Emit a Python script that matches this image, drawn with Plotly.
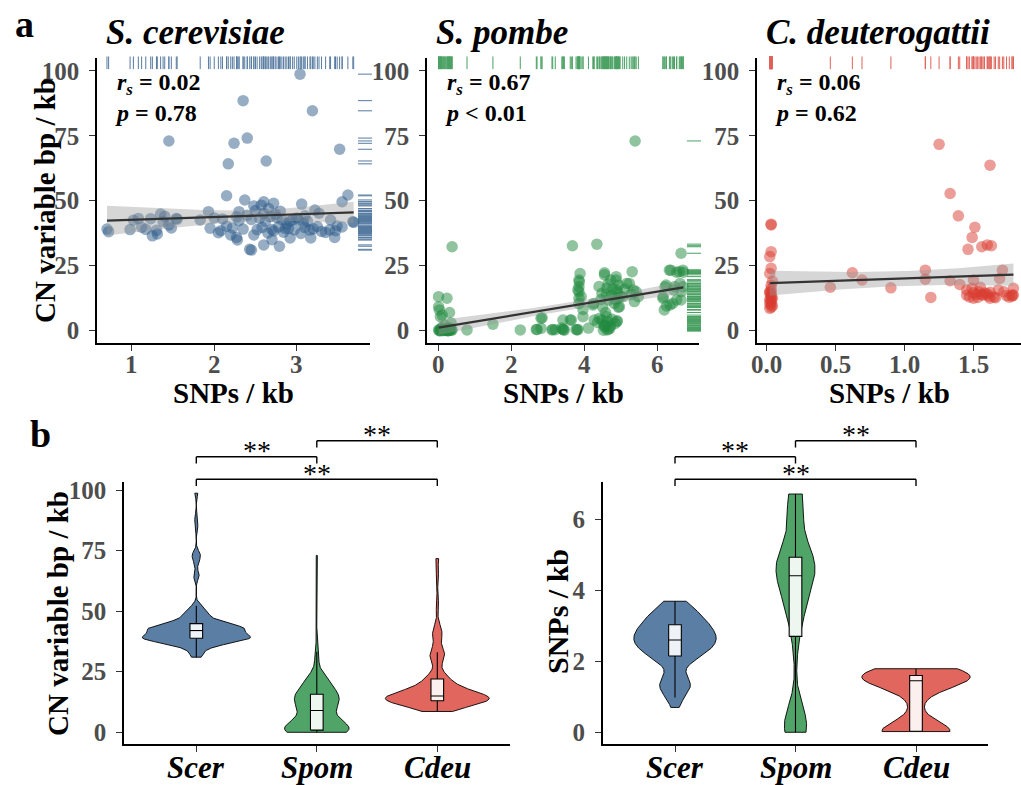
import numpy as np
import plotly.graph_objects as go

W, H = 1021, 785
FONT = "Liberation Serif"

# ---------------- data ----------------
species = ["Scer", "Spom", "Cdeu"]
species_titles = ["S. cerevisiae", "S. pombe", "C. deuterogattii"]
species_colors = ["#2D5B8A", "#1F8A3E", "#D93B2F"]
rs_values = ["0.02", "0.67", "0.06"]
p_values = ["= 0.78", "&lt; 0.01", "= 0.62"]

scer_snp = [0.70, 0.72, 0.98, 1.02, 1.08, 1.12, 1.17, 1.23, 1.31, 1.35, 1.38, 1.45, 1.45, 1.54, 1.55,
            1.30, 1.40, 1.25, 1.48, 1.83, 1.93, 1.95, 2.00, 2.05, 2.08, 2.10, 2.15, 2.17, 2.15,
            2.20, 2.22, 2.24, 2.27, 2.27, 2.28, 2.30, 2.30, 2.35, 2.35, 2.37, 2.40, 2.40, 2.43, 2.45,
            2.45, 2.48, 2.48, 2.50, 2.52, 2.55, 2.57, 2.58, 2.60, 2.60, 2.60, 2.62, 2.63, 2.65, 2.66,
            2.68, 2.70, 2.70, 2.72, 2.72, 2.74, 2.76, 2.78, 2.79, 2.80, 2.82, 2.84, 2.86, 2.88, 2.90,
            2.92, 2.92, 2.95, 2.97,
            3.00, 3.02, 3.04, 3.05, 3.06, 3.08, 3.10, 3.10, 3.13, 3.16, 3.17, 3.19, 3.20, 3.22, 3.25,
            3.27, 3.30, 3.35, 3.40, 3.41, 3.46, 3.47, 3.49, 3.52, 3.55, 3.55, 3.62, 3.68, 3.69]
scer_cn = [39.1, 38.1, 38.9, 42.5, 43.2, 39.8, 39.0, 43.1, 37.2, 44.9, 42.0, 73.0, 40.7, 43.2, 42.9,
           38.6, 44.0, 36.5, 39.5, 42.6, 45.8, 39.4, 43.4, 37.7, 38.5, 43.0, 51.9, 64.2, 40.2,
           36.8, 39.5, 72.1, 35.9, 43.8, 34.9, 45.8, 42.3, 88.5, 39.1, 50.3, 74.1, 44.4, 31.3, 31.0,
           42.8, 36.8, 48.0, 46.2, 38.9, 43.3, 48.3, 39.7, 49.6, 33.0, 45.1, 42.0, 65.3, 37.6, 47.0,
           43.9, 38.95, 35.0, 49.0, 38.4, 44.8, 43.5, 39.9, 32.5, 46.0, 42.7, 37.9, 39.3, 41.2, 39.3,
           35.7, 42.2, 42.6, 38.8,
           43.4, 42.7, 98.7, 37.4, 48.7, 41.4, 39.6, 44.2, 42.1, 38.7, 35.7, 84.6, 39.2, 46.4, 40.1,
           45.2, 38.2, 37.8, 38.8, 42.6, 35.9, 38.5, 40.3, 69.8, 39.9, 49.6, 52.2, 41.9, 41.7]

spom_snp = [0.00, 0.00, 0.23, 0.32, 0.05, 0.00, 0.14, 0.37, 0.23, 0.02, 0.37, 0.08, 0.25, 0.30, 0.05,
            0.15, 0.28, 0.10, 0.02, 0.30, 0.04, 0.06, 0.12, 0.18, 0.20, 0.26, 0.33, 0.35,
            0.09, 0.17, 0.27, 0.34,
            0.78, 1.49, 2.24, 2.68, 2.70, 2.81, 2.81, 2.84,
            3.11, 3.13, 3.20, 3.38, 3.41, 3.41, 3.42, 3.45, 4.52, 3.61, 3.64, 3.67, 4.66, 3.77, 3.80,
            3.82, 3.85, 3.85, 3.85, 3.85, 3.85, 3.86, 3.82, 3.88, 3.91, 3.96, 3.96, 4.62, 4.11, 4.23,
            4.25, 4.27, 4.34, 4.41, 4.48, 4.48, 4.45, 4.40,
            4.53, 4.63, 4.71, 4.84, 4.36, 4.57, 4.76, 4.90,
            4.50, 4.55, 4.55, 4.55, 4.61, 4.61, 4.67, 4.70, 4.72, 4.75, 4.82, 4.87, 4.87, 4.89, 4.89,
            4.89, 4.92, 4.94, 4.60, 4.65, 4.78, 4.85, 4.93, 4.58,
            4.96, 4.98, 5.05, 5.16, 5.23, 5.31, 5.34, 5.37, 5.39, 5.42, 5.48, 5.10, 5.28,
            6.15, 6.16, 6.19, 6.21, 6.25, 6.24, 6.33, 6.35, 6.37, 6.42, 6.44, 6.47, 6.53, 6.53, 6.60,
            6.62, 6.65, 6.65, 6.66, 6.70, 6.70, 6.71]
spom_cn = [13.1, 9.2, 12.5, 1.0, 5.4, 0.3, 0.3, 0.3, 0.2, 0.0, 32.3, 0.5, 0.0, 0.5, 0.6,
           0.4, 0.1, 6.0, 8.0, 7.0, 0.0, 0.2, 0.0, 0.3, 0.1, 0.0, 0.4, 0.2,
           1.2, 2.0, 0.7, 3.0,
           0.3, 2.5, 0.3, 0.5, 0.5, 4.8, 0.9, 5.0,
           0.3, 0.5, 0.4, 1.0, 4.1, 0.5, 0.5, 0.2, 0.2, 4.1, 4.1, 32.7, 0.6, 0.5, 0.3,
           0.5, 19.5, 16.9, 15.0, 12.5, 10.5, 18.8, 15.7, 22.0, 13.1, 8.2, 5.4, 0.3, 1.0, 9.9,
           10.5, 4.1, 33.3, 4.8, 4.1, 14.4, 12.0, 17.0,
           2.2, 3.5, 1.8, 2.8, 3.2, 2.0, 4.4, 3.8,
           9.0, 22.3, 21.5, 1.5, 5.4, 16.3, 11.8, 0.9, 19.5, 13.7, 10.5, 20.8, 19.5, 15.7, 3.5,
           15.0, 12.5, 17.5, 14.0, 18.0, 16.0, 12.0, 9.0, 7.0,
           9.2, 13.1, 13.1, 18.2, 18.2, 22.7, 15.7, 11.2, 73.0, 15.0, 13.1, 16.0, 14.0,
           12.5, 13.1, 8.0, 16.9, 9.5, 17.6, 23.3, 9.9, 23.3, 10.5, 15.7, 16.9, 22.5, 11.8, 22.7,
           18.2, 29.8, 11.8, 15.0, 16.9, 23.3, 22.5]

cdeu_snp = [0.03, 0.03, 0.03, 0.02, 0.03, 0.02, 0.04, 0.03, 0.03, 0.02, 0.03, 0.03, 0.04, 0.02,
            0.03, 0.03, 0.02, 0.03, 0.04, 0.03, 0.02, 0.03, 0.03, 0.02,
            0.46, 0.62, 0.69, 0.90, 1.15, 1.15, 1.19, 1.25,
            1.33, 1.33, 1.39, 1.40, 1.45, 1.45, 1.46, 1.49, 1.49, 1.50, 1.50, 1.51, 1.54, 1.55, 1.56,
            1.57, 1.60, 1.61, 1.62, 1.62, 1.63, 1.68, 1.69, 1.71, 1.72, 1.78, 1.79, 1.78, 1.79, 1.52,
            1.58, 1.65, 1.47, 1.53, 1.60, 1.74, 1.76, 1.50, 1.56, 1.62, 1.66]
cdeu_cn = [41.0, 40.7, 30.4, 28.5, 24.0, 22.0, 19.0, 17.5, 16.0, 15.0, 14.0, 13.0, 12.5, 12.0,
           11.5, 11.0, 10.5, 10.0, 9.5, 9.0, 8.6, 15.0, 12.5, 14.5,
           16.7, 22.3, 19.5, 16.5, 23.3, 19.8, 12.8, 71.7,
           52.8, 19.2, 44.2, 17.8, 13.7, 15.7, 31.3, 35.9, 16.3, 19.5, 12.5, 39.8, 15.0, 16.7, 32.3,
           13.7, 33.0, 13.3, 12.5, 63.7, 32.7, 15.7, 20.1, 23.3, 15.0, 13.7, 16.3, 13.3, 13.7, 14.0,
           14.5, 13.0, 13.0, 12.8, 14.2, 13.5, 12.9, 14.6, 13.9, 14.8, 12.7]

snp_data = [scer_snp, spom_snp, cdeu_snp]
cn_data = [scer_cn, spom_cn, cdeu_cn]

a_x_tickvals = [[1, 2, 3], [0, 2, 4, 6], [0, 0.5, 1.0, 1.5]]
a_x_ticktext = [["1", "2", "3"], ["0", "2", "4", "6"], ["0.0", "0.5", "1.0", "1.5"]]
cn_ticks = [0, 25, 50, 75, 100]
snp_ticks = [0, 2, 4, 6]
sig_pairs = [(0, 1), (1, 2), (0, 2)]
sig_labels = ["**", "**", "**"]

# ---------------- layout geometry (pixels) ----------------
def fx(p):
    return p / W


def fy(p):
    return 1 - p / H


A_PX = [(97, 370), (427, 699), (757, 1021)]
A_PY = (58.3, 343.3)
A_XRANGES = [(0.579, 3.888), (-0.318, 7.142), (-0.0726, 1.845)]
A_YRANGE = (-4.85, 104.8)
B_PX = [(124, 509.6), (602.7, 988.3)]
B_PY = (482.3, 744.0)
B_YRANGES = [(-4.83, 103.2), (-0.33, 7.04)]
SIG_LEVELS = [456.7, 440.7, 479.3]  # px rows of the brackets
A_XLABEL_Y = 364
A_XTITLE_Y = 393
B_XLABEL_Y = 767
VIOLIN_W = 0.9
BOX_W = 0.105

fig = go.Figure()


def rgba(hexc, a):
    h = hexc.lstrip("#")
    r, g, b = int(h[0:2], 16), int(h[2:4], 16), int(h[4:6], 16)
    return f"rgba({r},{g},{b},{a})"


def lm_band(x, y):
    x = np.asarray(x, float)
    y = np.asarray(y, float)
    n = len(x)
    b, a = np.polyfit(x, y, 1)
    xs = np.linspace(x.min(), x.max(), 80)
    yh = a + b * xs
    resid = y - (a + b * x)
    s = np.sqrt(np.sum(resid ** 2) / (n - 2))
    sxx = np.sum((x - x.mean()) ** 2)
    t = 1.96 + 2.5 / (n - 2)
    se = s * np.sqrt(1 / n + (xs - x.mean()) ** 2 / sxx)
    return xs, yh, yh - t * se, yh + t * se


def nrd0(v):
    v = np.asarray(v, float)
    q75, q25 = np.percentile(v, [75, 25])
    return 0.9 * min(np.std(v, ddof=1), (q75 - q25) / 1.34) * len(v) ** (-0.2)


def kde_trim(v, n=512):
    v = np.asarray(v, float)
    bw = nrd0(v)
    t = np.linspace(v.min(), v.max(), n)
    d = np.exp(-0.5 * ((t[:, None] - v[None, :]) / bw) ** 2).sum(axis=1) / (len(v) * bw * np.sqrt(2 * np.pi))
    return t, d


tick_font = dict(family=FONT, size=25, color="#4D4D4D", weight="bold")
axis_common = dict(showline=True, linecolor="black", linewidth=1.6, ticks="outside",
                   ticklen=6, tickwidth=1.2, tickcolor="#333333", showgrid=False,
                   zeroline=False, automargin=False, tickfont=tick_font)

annotations = []
layout_axes = {}
a_h_px = A_PY[1] - A_PY[0]
for i in range(3):
    sfx = "" if i == 0 else str(i + 1)
    xa, ya = "x" + sfx, "y" + sfx
    col = species_colors[i]
    x = snp_data[i]
    y = cn_data[i]
    fig.add_trace(go.Scatter(x=x, y=y, mode="markers", xaxis=xa, yaxis=ya,
                             marker=dict(size=11.5, color=col, opacity=0.5, line=dict(width=0)),
                             showlegend=False, hoverinfo="skip"))
    xs, yh, lo, hi = lm_band(x, y)
    fig.add_trace(go.Scatter(x=np.concatenate([xs, xs[::-1]]), y=np.concatenate([hi, lo[::-1]]),
                             mode="lines", fill="toself", fillcolor="rgba(153,153,153,0.4)",
                             line=dict(width=0), xaxis=xa, yaxis=ya, showlegend=False, hoverinfo="skip"))
    fig.add_trace(go.Scatter(x=xs, y=yh, mode="lines", line=dict(color="#333333", width=2.2),
                             xaxis=xa, yaxis=ya, showlegend=False, hoverinfo="skip"))
    # rugs
    x0, x1 = A_XRANGES[i]
    w_px = A_PX[i][1] - A_PX[i][0]
    y0, y1 = A_YRANGE
    rug_top_y = y1 - 4.5 * (y1 - y0) / a_h_px
    rug_right_x = x1 - 5.0 * (x1 - x0) / w_px
    if i == 2:
        rug_right_x = x1 + 3.5 * (x1 - x0) / w_px
    fig.add_trace(go.Scatter(x=x, y=[rug_top_y] * len(x), mode="markers", xaxis=xa, yaxis=ya,
                             marker=dict(symbol="line-ns-open", size=9, color=col,
                                         line=dict(width=1, color=col)),
                             opacity=0.8, showlegend=False, hoverinfo="skip", cliponaxis=False))
    fig.add_trace(go.Scatter(x=[rug_right_x] * len(y), y=y, mode="markers", xaxis=xa, yaxis=ya,
                             marker=dict(symbol="line-ew-open", size=10, color=col,
                                         line=dict(width=1, color=col)),
                             opacity=0.8, showlegend=False, hoverinfo="skip", cliponaxis=False))

    layout_axes["xaxis" + sfx] = dict(axis_common, domain=[fx(A_PX[i][0]), min(1.0, fx(A_PX[i][1]))],
                                      range=list(A_XRANGES[i]), tickvals=a_x_tickvals[i],
                                      showticklabels=False, anchor=ya)
    layout_axes["yaxis" + sfx] = dict(axis_common, domain=[fy(A_PY[1]), fy(A_PY[0])],
                                      range=list(A_YRANGE), tickvals=cn_ticks, anchor=xa,
                                      ticklabelstandoff=5)
    for tv, tt in zip(a_x_tickvals[i], a_x_ticktext[i]):
        annotations.append(dict(xref=xa, yref="paper", x=tv, y=fy(A_XLABEL_Y), xanchor="center",
                                yanchor="middle", text=f"<b>{tt}</b>", showarrow=False,
                                font=dict(family=FONT, size=25, color="#4D4D4D")))

# violins (trimmed Gaussian KDE, area-scaled like ggplot) with inner boxplots
for j, vals_list in enumerate([cn_data, snp_data]):
    xa, ya = "x" + str(4 + j), "y" + str(4 + j)
    kdes = [kde_trim(v) for v in vals_list]
    dmax = max(d.max() for _, d in kdes)
    for i, sp in enumerate(species):
        t, d = kdes[i]
        hw = d / dmax * VIOLIN_W / 2
        vx = np.concatenate([i + hw, (i - hw)[::-1], [i + hw[0]]])
        vy = np.concatenate([t, t[::-1], [t[0]]])
        fig.add_trace(go.Scatter(x=vx, y=vy, mode="lines", fill="toself",
                                 fillcolor=rgba(species_colors[i], 0.78),
                                 line=dict(color="black", width=0.9), xaxis=xa, yaxis=ya,
                                 showlegend=False, hoverinfo="skip"))
        v = np.asarray(vals_list[i], float)
        q1, med, q3 = np.percentile(v, [25, 50, 75])
        iqr = q3 - q1
        upper = v[v <= q3 + 1.5 * iqr].max()
        lower = v[v >= q1 - 1.5 * iqr].min()
        wl = dict(color="black", width=1.1)
        fig.add_trace(go.Scatter(x=[i, i, None, i, i], y=[q3, upper, None, q1, lower], mode="lines",
                                 line=wl, xaxis=xa, yaxis=ya, showlegend=False, hoverinfo="skip"))
        bx0, bx1 = i - BOX_W / 2, i + BOX_W / 2
        fig.add_trace(go.Scatter(x=[bx0, bx1, bx1, bx0, bx0], y=[q1, q1, q3, q3, q1], mode="lines",
                                 fill="toself", fillcolor="rgba(255,255,255,0.9)", line=wl,
                                 xaxis=xa, yaxis=ya, showlegend=False, hoverinfo="skip"))
        fig.add_trace(go.Scatter(x=[bx0, bx1], y=[med, med], mode="lines", line=wl,
                                 xaxis=xa, yaxis=ya, showlegend=False, hoverinfo="skip"))
        annotations.append(dict(xref=xa, yref="paper", x=i, y=fy(B_XLABEL_Y), xanchor="center",
                                yanchor="middle", text=f"<b><i>{sp}</i></b>", showarrow=False,
                                font=dict(family=FONT, size=31, color="black")))
    layout_axes["xaxis" + str(4 + j)] = dict(axis_common, domain=[fx(B_PX[j][0]), fx(B_PX[j][1])],
                                            range=[-0.6, 2.6], tickvals=[0, 1, 2],
                                            showticklabels=False, anchor=ya)
    layout_axes["yaxis" + str(4 + j)] = dict(axis_common, domain=[fy(B_PY[1]), fy(B_PY[0])],
                                            range=list(B_YRANGES[j]),
                                            tickvals=cn_ticks if j == 0 else snp_ticks, anchor=xa,
                                            ticklabelstandoff=5)

shapes = []
b_h = B_PY[1] - B_PY[0]
tick_d = 6.7 / b_h
for j in range(2):
    xa, ya = "x" + str(4 + j), "y" + str(4 + j)
    for k, (p0, p1) in enumerate(sig_pairs):
        lev = (B_PY[1] - SIG_LEVELS[k]) / b_h
        ln = dict(color="black", width=1.4)
        shapes.append(dict(type="line", xref=xa, yref=ya + " domain", x0=p0, x1=p1, y0=lev, y1=lev, line=ln))
        shapes.append(dict(type="line", xref=xa, yref=ya + " domain", x0=p0, x1=p0, y0=lev, y1=lev - tick_d, line=ln))
        shapes.append(dict(type="line", xref=xa, yref=ya + " domain", x0=p1, x1=p1, y0=lev, y1=lev - tick_d, line=ln))
        annotations.append(dict(xref=xa, yref=ya + " domain", x=(p0 + p1) / 2, y=lev, yanchor="middle",
                                yshift=6, text=sig_labels[k], showarrow=False,
                                font=dict(family=FONT, size=28, color="black")))

# panel titles, stats text, axis titles
for i in range(3):
    annotations.append(dict(xref="paper", yref="paper", x=fx(A_PX[i][0] + 7), y=fy(33), xanchor="left",
                            yanchor="middle", text=f"<b><i>{species_titles[i]}</i></b>", showarrow=False,
                            font=dict(family=FONT, size=35, color="black")))
    annotations.append(dict(xref="paper", yref="paper", x=fx(A_PX[i][0] + 16), y=fy(67), xanchor="left",
                            yanchor="top", align="left",
                            text=f"<b><i>r</i><sub><i>s</i></sub> = {rs_values[i]}</b><br><b><i>p</i> {p_values[i]}</b>",
                            showarrow=False, font=dict(family=FONT, size=24, color="black")))
    cx = (A_PX[i][0] + min(A_PX[i][1], 1025)) / 2
    annotations.append(dict(xref="paper", yref="paper", x=fx(cx), y=fy(A_XTITLE_Y), xanchor="center",
                            yanchor="middle", text="<b>SNPs / kb</b>", showarrow=False,
                            font=dict(family=FONT, size=29, color="black")))

annotations.append(dict(xref="paper", yref="paper", x=fx(45), y=fy(201), textangle=-90,
                        xanchor="center", yanchor="middle", text="<b>CN variable bp / kb</b>",
                        showarrow=False, font=dict(family=FONT, size=29, color="black")))
annotations.append(dict(xref="paper", yref="paper", x=fx(58), y=fy(614), textangle=-90,
                        xanchor="center", yanchor="middle", text="<b>CN variable bp / kb</b>",
                        showarrow=False, font=dict(family=FONT, size=29, color="black")))
annotations.append(dict(xref="paper", yref="paper", x=fx(557), y=fy(612), textangle=-90,
                        xanchor="center", yanchor="middle", text="<b>SNPs / kb</b>",
                        showarrow=False, font=dict(family=FONT, size=30, color="black")))
annotations.append(dict(xref="paper", yref="paper", x=fx(24), y=fy(24), xanchor="center",
                        yanchor="middle", text="<b>a</b>", showarrow=False,
                        font=dict(family=FONT, size=38, color="black")))
annotations.append(dict(xref="paper", yref="paper", x=fx(40), y=fy(434), xanchor="center",
                        yanchor="middle", text="<b>b</b>", showarrow=False,
                        font=dict(family=FONT, size=38, color="black")))

fig.update_layout(width=W, height=H, margin=dict(l=0, r=0, t=0, b=0), autosize=False,
                  paper_bgcolor="white", plot_bgcolor="white",
                  shapes=shapes, annotations=annotations, font=dict(family=FONT),
                  **layout_axes)

fig.write_html("out.html", config={"displayModeBar": False},
               post_script="document.body.style.margin='0';document.body.style.overflow='hidden';")
